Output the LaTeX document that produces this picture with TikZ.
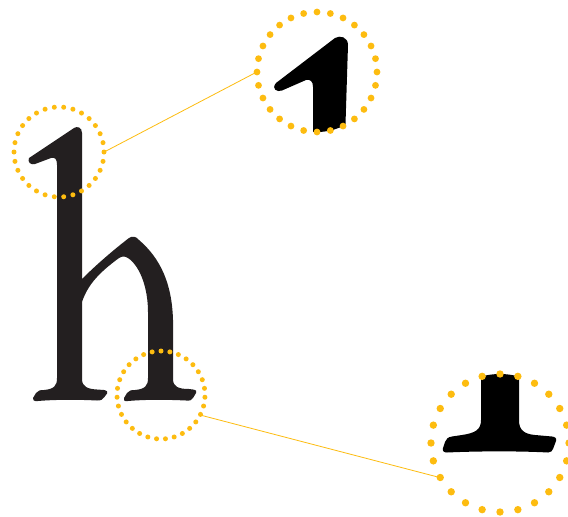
\documentclass[tikz,border=0pt]{standalone}
\usetikzlibrary{calc}
\definecolor{dotc}{RGB}{253,188,16}
\definecolor{ink}{RGB}{35,31,32}
\tikzset{
  lens/.style={circle, inner sep=0pt, draw=none},
  conn/.style={draw=dotc, line width=0.8pt},
  dot/.style={fill=dotc},
}
\begin{document}
\begin{tikzpicture}[x=1pt,y=-1pt]
\fill[white] (0,0) rectangle (568,517);
\useasboundingbox (0,0) rectangle (568,517);
% the letter h
\fill[ink] (29,158) -- (74,128) .. controls (77,126) and (82,127) .. (82,133)
 -- (82,279) .. controls (98,263) and (116,248) .. (129,238)
 .. controls (132,236) and (136,236) .. (139,240)
 .. controls (160,258) and (172,283) .. (173,320)
 -- (173,379) .. controls (173,387) and (179,389) .. (189,389)
 -- (193,389.5) .. controls (196,390) and (197,391) .. (196,393)
 -- (193,398) .. controls (192,400) and (190,401) .. (186,400.5)
 .. controls (165,399.5) and (145,399.5) .. (128,401)
 .. controls (124,401.5) and (123,400) .. (124,398)
 -- (127,393) .. controls (129,390.5) and (131,390) .. (135,390)
 .. controls (145,389) and (148,386) .. (148,378)
 -- (148,312) .. controls (148,288) and (140,266) .. (128,258)
 .. controls (125,256) and (122,256) .. (119,258)
 .. controls (100,272) and (88,284) .. (82,302)
 -- (82,379) .. controls (82,387) and (88,389) .. (97,389.5)
 -- (104,390) .. controls (107,390.5) and (108,392) .. (107,393.5)
 -- (104,397.5) .. controls (103,399.5) and (101,400.5) .. (97,400.5)
 .. controls (78,399.5) and (55,399.5) .. (38,401)
 .. controls (34,401.5) and (32,400) .. (33,398)
 -- (36,393) .. controls (38,390.5) and (40,390) .. (44,390)
 .. controls (54,389) and (57,386) .. (57,378)
 -- (57,165) .. controls (57,159) and (55,157) .. (51,158)
 -- (35,164) .. controls (31,165.5) and (27,162) .. (29,158) -- cycle;
% lens nodes
\node[lens, minimum size=90pt] (s1) at (59,152) {};
\node[lens, minimum size=88pt] (s2) at (161,395) {};
\node[lens, minimum size=120pt] (m1) at (317,72) {};
\node[lens, minimum size=138pt] (m2) at (500,443) {};
% magnified top serif
\begin{scope}
\clip (317,72) circle (60);
\fill[black] (276,83) -- (335,38) .. controls (340,35) and (348,37) .. (348,45)
 -- (345,140) -- (313,140) -- (313,87) .. controls (313,81) and (310,79) .. (306,80)
 -- (282,90.5) .. controls (277,92.5) and (271,89) .. (276,83) -- cycle;
\end{scope}
% magnified foot serif
\begin{scope}
\clip (500,443) circle (69);
\fill[black] (481,360) -- (481,420) .. controls (481,430) and (475,433) .. (462,435)
 -- (452,436.5) .. controls (448,437) and (446,439) .. (445,442)
 -- (443,448) .. controls (442,451) and (444,452.5) .. (447,452.5)
 .. controls (480,451) and (520,451) .. (548,452.5)
 .. controls (551,452.5) and (552,451) .. (553,449)
 -- (556,441) .. controls (557,438) and (555,437) .. (552,436.5)
 -- (535,435) .. controls (524,434) and (519,430) .. (519,420) -- (519,360) -- cycle;
\end{scope}
% connectors
\draw[conn] (s1.east) -- (m1.west);
\draw[conn] (s2.-27) -- (m2.210);
% dotted rings
\foreach \i in {0,...,29} \fill[dot] ($(s1)+({\i*12}:45)$) circle (2.5);
\foreach \i in {0,...,30} \fill[dot] ($(s2)+({-90+\i*360/31}:44)$) circle (2.5);
\foreach \i in {0,...,27} \fill[dot] ($(m1)+({\i*360/28}:60)$) circle (3.4);
\foreach \i in {0,...,23} \fill[dot] ($(m2)+({\i*15}:69)$) circle (3.7);
\end{tikzpicture}
\end{document}
